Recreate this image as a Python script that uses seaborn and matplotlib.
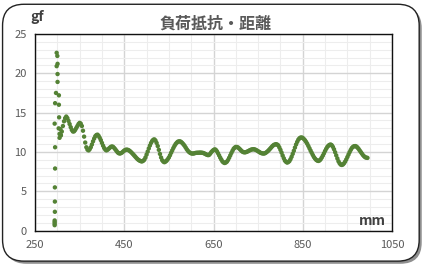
import numpy as np
import pandas as pd
import matplotlib
matplotlib.use("Agg")
import matplotlib.pyplot as plt
from matplotlib.patches import FancyBboxPatch
from matplotlib.ticker import MultipleLocator
import seaborn as sns

# ---- data ----
title = "負荷抵抗・距離"
y_label = "gf"
x_label = "mm"

onset_mm = [294, 294, 294, 294, 294.5, 294.5, 294.5, 295, 295, 294, 295, 297,
            300.5, 300.5, 298.5, 300.5, 300, 298.5, 303.5, 303.5, 304, 303, 305, 307, 308]
onset_gf = [0.7, 0.9, 1.1, 1.3, 2.4, 3.7, 5.5, 7.9, 10.6, 13.6, 16.2, 17.5,
            18.9, 19.9, 20.9, 21.2, 22.2, 22.6, 17.2, 16.0, 14.4, 13.0, 12.3, 12.9, 12.1]

curve_mm = [305, 310, 315, 320, 325, 330, 335, 340, 345, 350, 355, 360, 365, 370,
            375, 380, 385, 390, 395, 400, 405, 410, 415, 420, 425, 430, 435, 440,
            445, 450, 455, 460, 465, 470, 475, 480, 485, 490, 495, 500, 505, 510,
            515, 520, 525, 530, 535, 540, 545, 550, 555, 560, 565, 570, 575, 580,
            585, 590, 595, 600, 605, 610, 615, 620, 625, 630, 635, 640, 645, 650,
            655, 660, 665, 670, 675, 680, 685, 690, 695, 700, 705, 710, 715, 720,
            725, 730, 735, 740, 745, 750, 755, 760, 765, 770, 775, 780, 785, 790,
            795, 800, 805, 810, 815, 820, 825, 830, 835, 840, 845, 850, 855, 860,
            865, 870, 875, 880, 885, 890, 895, 900, 905, 910, 915, 920, 925, 930,
            935, 940, 945, 950, 955, 960, 965, 970, 975, 980, 985, 990, 995]
curve_gf = [11.8, 12.6, 13.9, 14.5, 13.95, 13.15, 12.6, 12.8, 13.3, 13.7, 13.3, 11.95, 10.6, 10.2,
            10.6, 11.35, 12.0, 12.2, 11.8, 11.15, 10.5, 10.2, 10.4, 10.65, 10.65, 10.33, 9.96, 9.8,
            9.93, 10.18, 10.3, 10.22, 10.0, 9.7, 9.38, 9.08, 8.88, 8.8, 9.02, 9.67, 10.45, 11.15,
            11.55, 11.45, 10.75, 9.75, 8.95, 8.7, 8.9, 9.3, 9.9, 10.5, 11.0, 11.3, 11.35, 11.14,
            10.8, 10.35, 10.0, 9.82, 9.8, 9.88, 9.9, 9.92, 9.9, 9.8, 9.65, 9.62, 9.98, 10.25,
            10.28, 9.85, 9.28, 8.8, 8.6, 8.77, 9.26, 9.87, 10.4, 10.64, 10.57, 10.3, 10.03, 9.95,
            10.03, 10.18, 10.31, 10.35, 10.26, 10.09, 9.91, 9.81, 9.83, 10.02, 10.3, 10.62, 10.89, 10.99,
            10.84, 10.27, 9.54, 8.9, 8.65, 8.84, 9.39, 10.15, 10.95, 11.56, 11.83, 11.78, 11.49, 11.04,
            10.47, 9.9, 9.36, 9.0, 8.86, 9.06, 9.54, 10.13, 10.64, 10.9, 10.86, 10.35, 9.57, 8.82,
            8.4, 8.41, 8.78, 9.36, 9.98, 10.5, 10.73, 10.7, 10.4, 10.0, 9.6, 9.33, 9.25]

curve_mm_b = [307.5, 312.5, 317.5, 322.5, 327.5, 332.5, 337.5, 342.5, 347.5, 352.5, 357.5, 362.5,
              367.5, 372.5, 377.5, 382.5, 387.5, 392.5, 397.5, 402.5, 407.5, 412.5, 417.5, 422.5,
              427.5, 432.5, 437.5, 442.5, 447.5, 452.5, 457.5, 462.5, 467.5, 472.5, 477.5, 482.5,
              487.5, 492.5, 497.5, 502.5, 507.5, 512.5, 517.5, 522.5, 527.5, 532.5, 537.5, 542.5,
              547.5, 552.5, 557.5, 562.5, 567.5, 572.5, 577.5, 582.5, 587.5, 592.5, 597.5, 602.5,
              607.5, 612.5, 617.5, 622.5, 627.5, 632.5, 637.5, 642.5, 647.5, 652.5, 657.5, 662.5,
              667.5, 672.5, 677.5, 682.5, 687.5, 692.5, 697.5, 702.5, 707.5, 712.5, 717.5, 722.5,
              727.5, 732.5, 737.5, 742.5, 747.5, 752.5, 757.5, 762.5, 767.5, 772.5, 777.5, 782.5,
              787.5, 792.5, 797.5, 802.5, 807.5, 812.5, 817.5, 822.5, 827.5, 832.5, 837.5, 842.5,
              847.5, 852.5, 857.5, 862.5, 867.5, 872.5, 877.5, 882.5, 887.5, 892.5, 897.5, 902.5,
              907.5, 912.5, 917.5, 922.5, 927.5, 932.5, 937.5, 942.5, 947.5, 952.5, 957.5, 962.5,
              967.5, 972.5, 977.5, 982.5, 987.5, 992.5]
curve_gf_b = [12.2, 13.3, 14.3, 14.3, 13.55, 12.8, 12.62, 13.05, 13.55, 13.6, 12.7, 11.2,
              10.3, 10.35, 10.95, 11.7, 12.15, 12.05, 11.5, 10.8, 10.3, 10.28, 10.53, 10.7,
              10.5, 10.14, 9.85, 9.85, 10.06, 10.26, 10.28, 10.12, 9.85, 9.54, 9.22, 8.97,
              8.82, 8.88, 9.3, 10.05, 10.82, 11.4, 11.6, 11.15, 10.27, 9.3, 8.78, 8.78,
              9.08, 9.58, 10.2, 10.77, 11.17, 11.35, 11.27, 10.98, 10.58, 10.16, 9.9, 9.8,
              9.84, 9.9, 9.91, 9.91, 9.86, 9.72, 9.6, 9.78, 10.13, 10.33, 10.1, 9.57,
              9.03, 8.67, 8.66, 8.98, 9.56, 10.15, 10.55, 10.63, 10.44, 10.15, 9.97, 9.98,
              10.1, 10.25, 10.34, 10.32, 10.18, 10.0, 9.85, 9.8, 9.91, 10.15, 10.46, 10.77,
              10.95, 10.95, 10.58, 9.92, 9.2, 8.74, 8.72, 9.08, 9.76, 10.56, 11.28, 11.73,
              11.84, 11.65, 11.28, 10.76, 10.18, 9.62, 9.16, 8.9, 8.92, 9.28, 9.83, 10.4,
              10.8, 10.95, 10.65, 9.97, 9.18, 8.57, 8.35, 8.56, 9.05, 9.67, 10.26, 10.65,
              10.75, 10.57, 10.2, 9.8, 9.45, 9.28]

x_ticks = [250, 450, 650, 850, 1050]
y_ticks = [0, 5, 10, 15, 20, 25]

df = pd.DataFrame({"mm": onset_mm + curve_mm + curve_mm_b,
                   "gf": onset_gf + curve_gf + curve_gf_b})

# ---- style ----
sns.set_theme(style="white")
plt.rcParams["font.family"] = ["Noto Sans CJK JP", "DejaVu Sans"]

fig = plt.figure(figsize=(4.26, 2.67), dpi=100)
fig.patch.set_facecolor("white")

# rounded frame with shadow
shadow = FancyBboxPatch((0.012, 0.012), 0.978, 0.962, boxstyle="round,pad=0,rounding_size=0.05",
                        transform=fig.transFigure, facecolor="#8f8f8f", edgecolor="none",
                        zorder=-2, mutation_aspect=426/267)
frame = FancyBboxPatch((0.006, 0.022), 0.978, 0.962, boxstyle="round,pad=0,rounding_size=0.05",
                       transform=fig.transFigure, facecolor="white", edgecolor="#222222",
                       linewidth=1.0, zorder=-1, mutation_aspect=426/267)
fig.patches.extend([shadow, frame])

ax = fig.add_axes([0.0822, 0.136, 0.838, 0.737])
ax.set_facecolor("white")
ax.set_zorder(1)

sns.scatterplot(data=df, x="mm", y="gf", ax=ax, color="#548235", s=10,
                edgecolor="none", linewidth=0, zorder=3, legend=False)

ax.set_xlim(250, 1050)
ax.set_ylim(0, 25)
ax.set_xticks(x_ticks)
ax.set_yticks(y_ticks)
ax.xaxis.set_minor_locator(MultipleLocator(50))
ax.yaxis.set_minor_locator(MultipleLocator(1))
ax.grid(which="minor", color="#ededed", linewidth=0.8, zorder=0)
ax.grid(which="major", color="#d4d4d4", linewidth=1.0, zorder=0)
ax.set_axisbelow(True)

for s in ax.spines.values():
    s.set_visible(True)
    s.set_color("#111111")
    s.set_linewidth(1.0)

ax.tick_params(axis="both", which="both", length=0, labelsize=8, labelcolor="#595959")
ax.tick_params(axis="x", pad=7)
ax.tick_params(axis="y", pad=6)
ax.set_xlabel("")
ax.set_ylabel("")

fig.text(0.505, 0.912, title, ha="center", va="center", fontsize=11.5,
         fontweight="bold", color="#595959", zorder=2)
fig.text(0.088, 0.935, y_label, ha="center", va="center", fontsize=10,
         fontweight="bold", color="#404040", zorder=2)
ax.text(0.945, 0.05, x_label, transform=ax.transAxes, ha="center", va="center",
        fontsize=10, fontweight="bold", color="#404040", zorder=4)

fig.savefig("out.png", dpi=100, facecolor="white")
